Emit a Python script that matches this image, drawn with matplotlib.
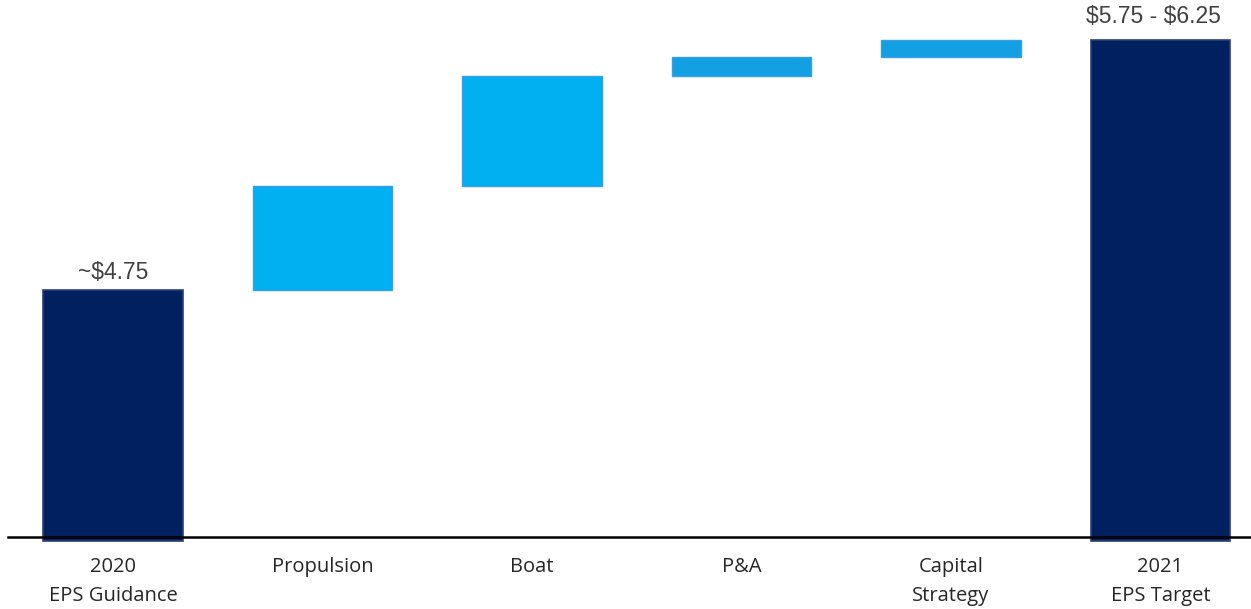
import matplotlib.pyplot as plt
import numpy as np

# Данные (EPS, $)
categories = ['2020\nEPS Guidance', 'Propulsion', 'Boat', 'P&A', 'Capital\nStrategy', '2021\nEPS Target']
start_eps = 4.75
steps = [0.52, 0.55, 0.095, 0.085]
end_eps = 6.00
value_labels = [r'~\$4.75', r'\$5.75 - \$6.25']

base = 3.515  # уровень горизонтальной оси
px = 1 / 200  # долларов на пиксель

fig = plt.figure(figsize=(12.51, 6.09), dpi=100)
ax = fig.add_axes([0, 0, 1, 1])

x = np.arange(len(categories))
width = 0.665
dark = '#002060'

# Начальный и конечный столбцы (чуть заходят под ось)
for xi, v in [(x[0], start_eps), (x[-1], end_eps)]:
    ax.bar(xi, v - base + 4 * px, bottom=base - 4 * px, width=width,
           color=dark, edgecolor='#2a3f78', linewidth=1.2, zorder=2)

# Промежуточные шаги
bottoms = start_eps + np.concatenate([[0], np.cumsum(steps)[:-1]])
step_colors = ['#00B0F0', '#00B0F0', '#13A0E3', '#13A0E3']
for i, (b, h, c) in enumerate(zip(bottoms, steps, step_colors)):
    ax.bar(x[i + 1], h, bottom=b, width=width, color=c,
           edgecolor='#3a9ee6', linewidth=1.0, zorder=2)

# Подписи значений
ax.text(x[0], start_eps + 6 * px, value_labels[0], ha='center', va='bottom',
        fontsize=16.5, color='#404040', family='Liberation Sans')
ax.text(x[-1] - 0.035, end_eps + 12 * px, value_labels[1], ha='center', va='bottom',
        fontsize=16.5, color='#404040', family='Liberation Sans')

# Ось
ax.axhline(base, xmin=8 / 1251, xmax=1, color='black', linewidth=1.8, zorder=3)

# Подписи категорий
for xi, lab in zip(x, categories):
    ax.text(xi, base - 20 * px, lab, ha='center', va='top', fontsize=14.5,
            family='Open Sans', color='#262626', linespacing=1.6)

ax.set_xlim(-113 / 209.5, (1251 - 113) / 209.5)
ax.set_ylim(base - 72 * px, base + 537 * px)
ax.axis('off')

plt.savefig('out.png', dpi=100)
plt.close()
